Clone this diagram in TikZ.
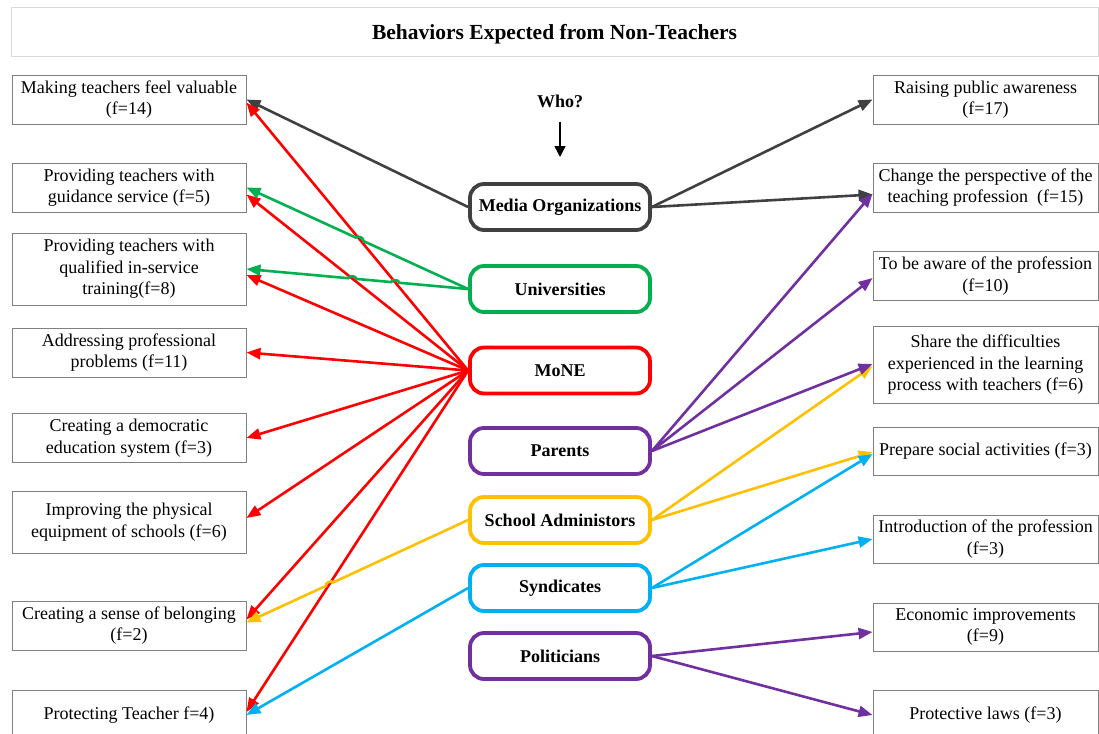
\documentclass[tikz,border=0pt]{standalone}
\usepackage{fontspec}
\setmainfont{Liberation Serif}
\usetikzlibrary{arrows.meta,calc,intersections}
\definecolor{mediagray}{HTML}{404040}
\definecolor{unigreen}{HTML}{00B050}
\definecolor{monered}{HTML}{FF0000}
\definecolor{parpurple}{HTML}{7030A0}
\definecolor{admgold}{HTML}{FFC000}
\definecolor{synblue}{HTML}{00B0F0}
\definecolor{boxgray}{HTML}{808080}
\definecolor{titlegray}{HTML}{D9D9D9}
\pgfdeclarelayer{edgelayer}
\pgfdeclarelayer{nodelayer}
\pgfsetlayers{edgelayer,nodelayer,main}
\tikzstyle{titlebox}=[rectangle,draw=titlegray,line width=1pt,minimum width=1087pt,minimum height=49pt,text depth=2pt,font=\fontsize{21.5}{25}\selectfont\bfseries]
\tikzstyle{goalbox}=[rectangle,draw=boxgray,line width=0.9pt,fill=white,align=center,inner sep=1pt,font=\fontsize{18}{21.5}\selectfont]
\tikzstyle{leftgoal}=[goalbox,minimum width=234pt,minimum height=49pt]
\tikzstyle{rightgoal}=[goalbox,minimum width=225pt,minimum height=49pt]
\tikzstyle{actor}=[rectangle,rounded corners=14pt,line width=3.8pt,fill=white,minimum width=180pt,minimum height=46pt,font=\fontsize{18}{21.5}\selectfont\bfseries]
\tikzstyle{who}=[font=\fontsize{18}{21.5}\selectfont\bfseries,inner sep=2pt]
\tikzstyle{link}=[-{Triangle[length=14pt,width=11pt]},line width=2.6pt]
\tikzstyle{whoarrow}=[-{Triangle[length=11pt,width=11pt]},line width=1.5pt,shorten <=12pt]

\begin{document}
\begin{tikzpicture}[x=1pt,y=-1pt]
	\useasboundingbox (0,0) rectangle (1099,733);
	\begin{pgfonlayer}{nodelayer}
		\node [style=titlebox] (title) at (554.5,32.5) {Behaviors Expected from Non-Teachers};
		\node [style=who] (who) at (560,101) {Who?};
		\coordinate (whoend) at (560,157);
		% who
		\node [style=actor, draw=mediagray] (media) at (560,207) {Media Organizations};
		\node [style=actor, draw=unigreen] (univ) at (560,289) {Universities};
		\node [style=actor, draw=monered] (mone) at (560,370.5) {MoNE};
		\node [style=actor, draw=parpurple] (parents) at (560,451) {Parents};
		\node [style=actor, draw=admgold] (admin) at (560,520) {School Administors};
		\node [style=actor, draw=synblue] (synd) at (560,588) {Syndicates};
		\node [style=actor, draw=parpurple] (polit) at (560,656) {Politicians};
		% left side
		\node [style=leftgoal] (l1) at (129,99.5) {Making teachers feel valuable\\(f=14)};
		\node [style=leftgoal] (l2) at (129,187.5) {Providing teachers with\\guidance service (f=5)};
		\node [style=leftgoal, minimum height=72pt] (l3) at (129,269) {Providing teachers with\\qualified in-service\\training(f=8)};
		\node [style=leftgoal] (l4) at (129,352.5) {Addressing professional\\problems (f=11)};
		\node [style=leftgoal] (l5) at (129,438) {Creating a democratic\\education system (f=3)};
		\node [style=leftgoal, minimum height=62pt] (l6) at (129,522) {Improving the physical\\equipment of schools (f=6)};
		\node [style=leftgoal] (l7) at (129,625.5) {Creating a sense of belonging\\(f=2)};
		\node [style=leftgoal, minimum height=50pt] (l8) at (129,715) {Protecting Teacher f=4)};
		% right side
		\node [style=rightgoal] (r1) at (985.5,99.5) {Raising public awareness\\(f=17)};
		\node [style=rightgoal] (r2) at (985.5,187.5) {Change the perspective of the\\teaching profession~ (f=15)};
		\node [style=rightgoal] (r3) at (985.5,276) {To be aware of the profession\\(f=10)};
		\node [style=rightgoal, minimum height=77pt] (r4) at (985.5,365) {Share the difficulties\\experienced in the learning\\process with teachers (f=6)};
		\node [style=rightgoal, minimum height=48pt] (r5) at (985.5,451) {Prepare social activities (f=3)};
		\node [style=rightgoal, minimum height=48pt] (r6) at (985.5,539) {Introduction of the profession\\(f=3)};
		\node [style=rightgoal, minimum height=48pt] (r7) at (985.5,627) {Economic improvements\\(f=9)};
		\node [style=rightgoal, minimum height=50pt] (r8) at (985.5,715) {Protective laws (f=3)};
	\end{pgfonlayer}
	\begin{pgfonlayer}{edgelayer}
		\draw [style=whoarrow] (who) to (whoend);
		\draw [style=link, color=mediagray] (media.west) to (l1.east);
		\draw [style=link, color=mediagray] (media.east) to (r1.west);
		\draw [style=link, color=mediagray] (media.east) to ($(r2.west)+(0,7)$);
		\draw [style=link, color=monered, name path=ml1] (mone.west) to ($(l1.east)+(0,3)$);
		\draw [style=link, color=monered, name path=ml2] (mone.west) to ($(l2.east)+(0,7)$);
		\draw [style=link, color=monered] (mone.west) to ($(l3.east)+(0,6)$);
		\draw [style=link, color=monered] (mone.west) to (l4.east);
		\draw [style=link, color=monered] (mone.west) to (l5.east);
		\draw [style=link, color=monered] (mone.west) to ($(l6.east)+(0,-4)$);
		\draw [style=link, color=monered] (mone.west) to ($(l7.east)+(0,-6)$);
		\draw [style=link, color=monered, name path=ml8] (mone.west) to ($(l8.east)+(0,-3)$);
		% hops
		\path [name path=ul2] (univ.west) -- (l2.east);
		\path [name path=ul3] (univ.west) -- (l3.east);
		\path [name path=al7] (admin.west) -- ($(l7.east)+(0,-3)$);
		\path [name intersections={of=ml1 and ul2, by=h1}];
		\path [name intersections={of=ml1 and ul3, by=h2}];
		\path [name intersections={of=ml2 and ul3, by=h3}];
		\path [name intersections={of=ml8 and al7, by=h4}];
		\draw [style=link, color=unigreen] (univ.west) -- ($(h1)!4pt!(univ.west)$) to [bend right=90] ($(h1)!4pt!(l2.east)$) -- (l2.east);
		\draw [style=link, color=unigreen] (univ.west) -- ($(h2)!4pt!(univ.west)$) to [bend right=90] ($(h2)!4pt!(l3.east)$) -- ($(h3)!4pt!(univ.west)$) to [bend right=90] ($(h3)!4pt!(l3.east)$) -- (l3.east);
		\draw [style=link, color=admgold] (admin.west) -- ($(h4)!4pt!(admin.west)$) to [bend right=90] ($(h4)!4pt!(l7.east)$) -- ($(l7.east)+(0,-3)$);
		\draw [style=link, color=admgold] (admin.east) to ($(r4.west)+(0,1)$);
		\draw [style=link, color=admgold] (admin.east) to ($(r5.west)+(0,1)$);
		\draw [style=link, color=parpurple] (parents.east) to ($(r2.west)+(0,6)$);
		\draw [style=link, color=parpurple] (parents.east) to ($(r3.west)+(0,2)$);
		\draw [style=link, color=parpurple] (parents.east) to ($(r4.west)+(0,-1)$);
		\draw [style=link, color=synblue] (synd.west) to (l8.east);
		\draw [style=link, color=synblue] (synd.east) to ($(r5.west)+(0,3)$);
		\draw [style=link, color=synblue] (synd.east) to (r6.west);
		\draw [style=link, color=parpurple] (polit.east) to ($(r7.west)+(0,5)$);
		\draw [style=link, color=parpurple] (polit.east) to (r8.west);
	\end{pgfonlayer}
\end{tikzpicture}
\end{document}
